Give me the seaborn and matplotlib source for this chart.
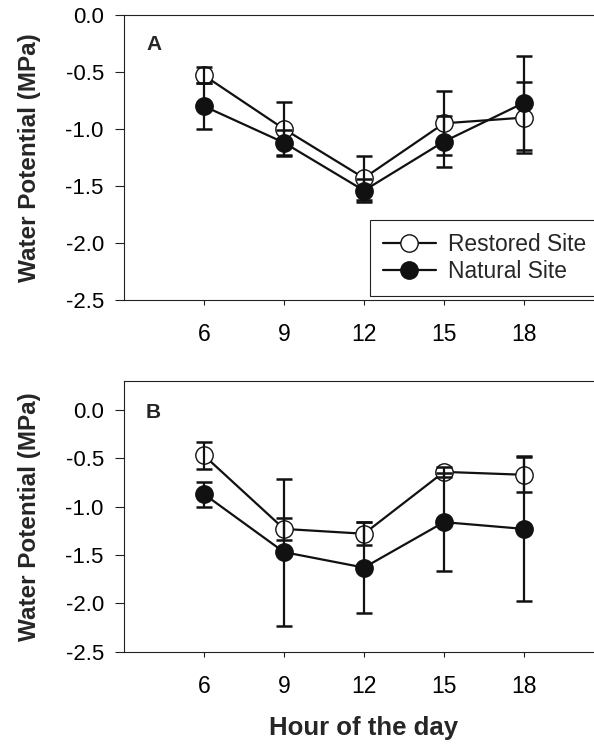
import matplotlib
matplotlib.use("Agg")
import matplotlib.pyplot as plt
import seaborn as sns
import pandas as pd

hours = [6, 9, 12, 15, 18]
sites = ["Restored Site", "Natural Site"]

# Panel A
a_restored = [-0.53, -1.00, -1.43, -0.95, -0.90]
a_restored_err = [0.07, 0.24, 0.19, 0.28, 0.31]
a_natural = [-0.80, -1.12, -1.54, -1.11, -0.77]
a_natural_err = [0.20, 0.11, 0.10, 0.22, 0.41]

# Panel B
b_restored = [-0.47, -1.23, -1.28, -0.64, -0.67]
b_restored_err = [0.14, 0.11, 0.12, 0.05, 0.18]
b_natural = [-0.87, -1.47, -1.63, -1.16, -1.23]
b_natural_err = [0.13, 0.76, 0.47, 0.51, 0.75]

yticks = [0.0, -0.5, -1.0, -1.5, -2.0, -2.5]
ytick_labels = ["0.0", "-0.5", "-1.0", "-1.5", "-2.0", "-2.5"]

sns.set_theme(style="ticks")
plt.rcParams["font.family"] = ["Liberation Sans", "DejaVu Sans"]

fig = plt.figure(figsize=(5.94, 7.45), dpi=100)
W, H = 594, 745
ax_a = fig.add_axes([124 / W, 1 - 300 / H, 480 / W, 285 / H])
ax_b = fig.add_axes([124 / W, 1 - 651.7 / H, 480 / W, (651.7 - 381) / H])

def draw(ax, restored, rerr, natural, nerr, ylim, letter, ly):
    df = pd.DataFrame({
        "hour": hours * 2,
        "wp": restored + natural,
        "site": [sites[0]] * 5 + [sites[1]] * 5,
    })
    face = {sites[0]: "white", sites[1]: "#111111"}
    for s in sites:
        sub = df[df["site"] == s]
        sns.lineplot(data=sub, x="hour", y="wp", ax=ax, color="#111111",
                     linewidth=1.6, marker="o", markersize=12.5,
                     markerfacecolor=face[s], markeredgecolor="#111111",
                     markeredgewidth=1.0, label=s, zorder=3)
    for vals, errs in ((restored, rerr), (natural, nerr)):
        ax.errorbar(hours, vals, yerr=errs, fmt="none", ecolor="#111111",
                    elinewidth=1.6, capsize=5.5, capthick=1.8, zorder=4)
    ax.set_xlim(3, 21)
    ax.set_ylim(*ylim)
    ax.set_xticks(hours)
    ax.set_xticklabels([str(h) for h in hours], fontsize=16.5)
    ax.set_yticks(yticks)
    ax.set_yticklabels(ytick_labels, fontsize=16)
    ax.tick_params(axis="y", length=6.5, width=0.8, pad=8, colors="#222222", labelcolor="black")
    ax.tick_params(axis="x", length=3.8, width=0.8, pad=13, colors="#222222", labelcolor="black")
    for sp in ax.spines.values():
        sp.set_linewidth(0.8)
        sp.set_color("#222222")
    ax.set_xlabel("")
    ax.set_ylabel("Water Potential (MPa)", fontsize=17.5, fontweight="bold")
    ax.yaxis.set_label_coords(-0.172, 0.5)
    ax.text(0.046, ly, letter, transform=ax.transAxes, fontsize=15,
            fontweight="bold", ha="left", va="center")

draw(ax_a, a_restored, a_restored_err, a_natural, a_natural_err, (-2.5, 0.0), "A", 0.895)
draw(ax_b, b_restored, b_restored_err, b_natural, b_natural_err, (-2.5, 0.3), "B", 0.882)

ax_b.get_legend().remove()
leg = ax_a.legend(loc="upper left", bbox_to_anchor=((370 - 124) / 480, (300 - 220) / 285),
                  borderaxespad=0, fontsize=16.4, frameon=True, fancybox=False,
                  edgecolor="#222222", handlelength=2.3, handletextpad=0.55,
                  labelspacing=0.15, borderpad=0.58)
leg.get_frame().set_linewidth(0.8)
leg.get_frame().set_alpha(1)

fig.text(364 / W, 1 - 728 / H, "Hour of the day", fontsize=18.5, fontweight="bold",
         ha="center", va="center")

fig.savefig("out.png", dpi=100)
